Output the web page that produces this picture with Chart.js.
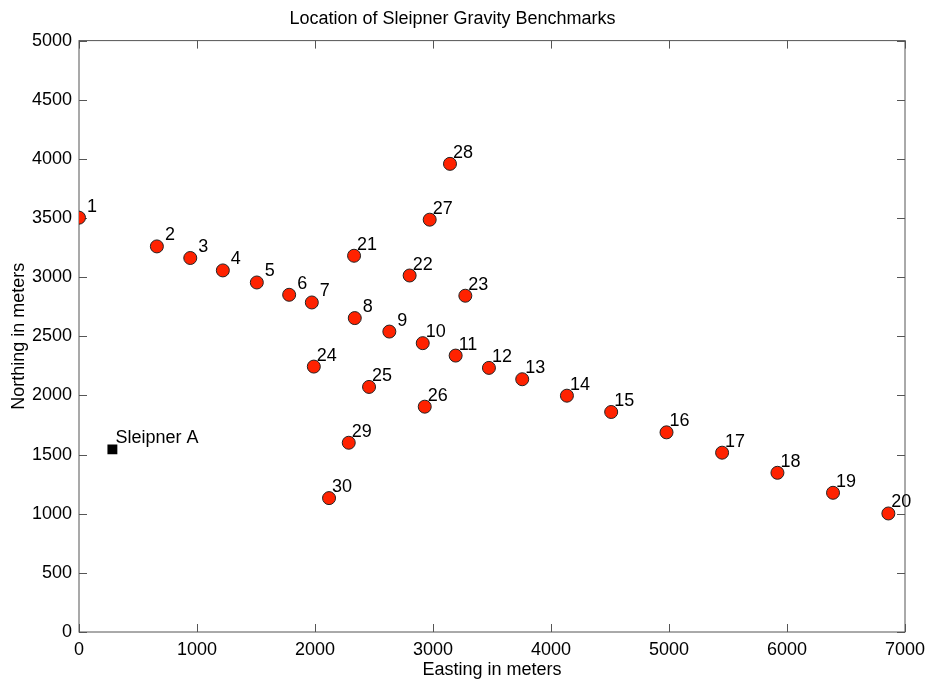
<!DOCTYPE html>
<html>
<head>
<meta charset="utf-8">
<script src="https://cdn.jsdelivr.net/npm/chart.js@4"></script>
<style>
  html, body { margin: 0; padding: 0; background: #fff; }
  #wrap { width: 928px; height: 682px; }
</style>
</head>
<body>
<div id="wrap"><canvas id="myChart"></canvas></div>
<script>
// benchmark positions (meters)
let benchEast  = [0, 660, 943, 1219, 1507, 1781, 1973, 2337, 2630, 2913,
                  3192, 3474, 3756, 4135, 4510, 4979, 5450, 5919, 6390, 6859,
                  2331, 2802, 3274, 1990, 2458, 2930, 2972, 3144, 2286, 2119]
let benchNorth = [3503, 3260, 3162, 3057, 2955, 2851, 2786, 2654, 2540, 2442,
                  2337, 2233, 2137, 1998, 1860, 1688, 1516, 1346, 1177, 1002,
                  3181, 3014, 2843, 2244, 2072, 1905, 3486, 3958, 1600, 1132]
let benchNames = benchEast.map((v, i) => String(i + 1))

let platformEast  = [283]
let platformNorth = [1544]
let platformNames = ['Sleipner A']

let xTicks = [0, 1000, 2000, 3000, 4000, 5000, 6000, 7000]
let yTicks = [0, 500, 1000, 1500, 2000, 2500, 3000, 3500, 4000, 4500, 5000]

const FONT = "'Liberation Sans', Arial, Helvetica, sans-serif"

// labels next to each marker
const pointLabels = {
    id: 'pointLabels',
    afterDatasetsDraw(chart) {
        let ctx = chart.ctx
        ctx.save()
        ctx.font = '18px ' + FONT
        ctx.fillStyle = '#000'
        ctx.textAlign = 'left'
        ctx.textBaseline = 'alphabetic'
        chart.data.datasets.forEach((ds, di) => {
            let meta = chart.getDatasetMeta(di)
            meta.data.forEach((pt, i) => {
                let txt = ds.names[i]
                if (txt.length == 1) txt = ' ' + txt
                ctx.fillText(txt, pt.x + 3, pt.y - 6)
            })
        })
        ctx.restore()
    }
}

// box round the plot, ticks pointing inward
const boxAxes = {
    id: 'boxAxes',
    beforeDatasetsDraw(chart) {
        let {ctx, chartArea: a, scales} = chart
        ctx.save()
        ctx.strokeStyle = '#555'
        ctx.lineWidth = 1
        ctx.strokeRect(a.left, a.top, a.right - a.left, a.bottom - a.top)
        ctx.beginPath()
        let len = 8
        xTicks.forEach(v => {
            let x = Math.round(scales.x.getPixelForValue(v)) + 0.5
            ctx.moveTo(x, a.bottom); ctx.lineTo(x, a.bottom - len)
            ctx.moveTo(x, a.top); ctx.lineTo(x, a.top + len)
        })
        yTicks.forEach(v => {
            let y = Math.round(scales.y.getPixelForValue(v)) + 0.5
            ctx.moveTo(a.left, y); ctx.lineTo(a.left + len, y)
            ctx.moveTo(a.right, y); ctx.lineTo(a.right - len, y)
        })
        ctx.stroke()
        ctx.restore()
    }
}

let myChart = document.querySelector('#myChart')

new Chart(myChart, {
    type: 'scatter',
    data: {
        datasets: [{
            label: 'Benchmarks',
            data: benchEast.map((x, i) => ({x: x, y: benchNorth[i]})),
            names: benchNames,
            pointStyle: 'circle',
            pointRadius: 6.5,
            pointHoverRadius: 6.5,
            backgroundColor: '#ff2200',
            borderColor: '#222',
            borderWidth: 1
        }, {
            label: 'Platform',
            data: platformEast.map((x, i) => ({x: x, y: platformNorth[i]})),
            names: platformNames,
            pointStyle: 'rect',
            pointRadius: 7,
            pointHoverRadius: 7,
            backgroundColor: '#000',
            borderColor: '#000',
            borderWidth: 0
        }]
    },
    options: {
        responsive: true,
        maintainAspectRatio: false,
        animation: false,
        layout: { padding: { top: 0, right: 23, left: 0, bottom: 0 } },
        plugins: {
            legend: { display: false },
            tooltip: { enabled: false },
            title: {
                display: true,
                text: 'Location of Sleipner Gravity Benchmarks',
                color: '#000',
                font: { family: FONT, size: 18, weight: 'normal' },
                padding: { top: 8, bottom: 11 }
            }
        },
        scales: {
            x: {
                type: 'linear',
                min: 0,
                max: 7000,
                afterFit(scale) {
                    scale.height = 50
                    scale.paddingLeft = 0
                    scale.paddingRight = 0
                },
                afterBuildTicks(scale) { scale.ticks = xTicks.map(v => ({value: v})) },
                grid: { display: false, drawTicks: false },
                border: { display: false },
                ticks: {
                    color: '#000', padding: 7,
                    font: { family: FONT, size: 18 },
                    callback: v => String(v)
                },
                title: {
                    display: true,
                    text: 'Easting in meters',
                    color: '#000',
                    font: { family: FONT, size: 18 },
                    padding: { top: 0, bottom: 1 }
                }
            },
            y: {
                type: 'linear',
                min: 0,
                max: 5000,
                afterFit(scale) {
                    scale.width = 79
                    scale.paddingTop = 0
                    scale.paddingBottom = 0
                },
                afterBuildTicks(scale) { scale.ticks = yTicks.map(v => ({value: v})) },
                grid: { display: false, drawTicks: false },
                border: { display: false },
                ticks: {
                    color: '#000', padding: 7,
                    font: { family: FONT, size: 18 },
                    callback: v => String(v)
                },
                title: {
                    display: true,
                    text: 'Northing in meters',
                    color: '#000',
                    font: { family: FONT, size: 18 },
                    padding: { top: 8, bottom: 0 }
                }
            }
        }
    },
    plugins: [boxAxes, pointLabels]
})
</script>
</body>
</html>
